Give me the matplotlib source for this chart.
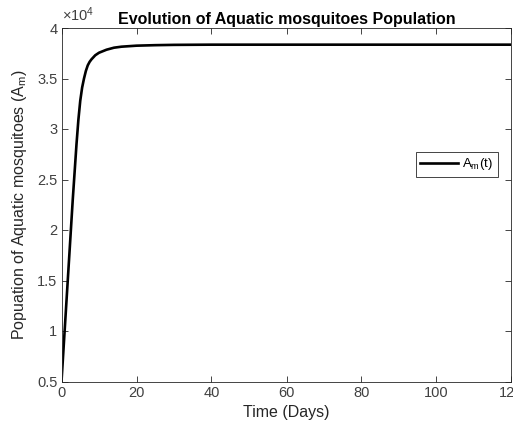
import matplotlib
matplotlib.use("Agg")
import matplotlib.pyplot as plt
from matplotlib.ticker import FuncFormatter

t_days = [0, 1, 2, 3, 4, 4.5, 5, 5.5, 6, 6.5, 7, 7.5, 8, 9, 10, 12, 14, 16, 20, 25, 30, 40, 60, 90, 120]
aquatic = [5000, 11000, 17000, 23000, 28500, 30900, 32800, 34100, 35000, 35750, 36300, 36650, 36900,
           37300, 37550, 37850, 38050, 38150, 38250, 38300, 38330, 38350, 38350, 38350, 38350]
xticks = [0, 20, 40, 60, 80, 100, 120]
yticks = [5000, 10000, 15000, 20000, 25000, 30000, 35000, 40000]

plt.rcParams['font.family'] = ['Liberation Sans', 'DejaVu Sans']
plt.rcParams['mathtext.fontset'] = 'custom'
plt.rcParams['mathtext.rm'] = 'Liberation Sans'
plt.rcParams['mathtext.it'] = 'Liberation Sans'

fig = plt.figure(figsize=(5.13, 4.33), dpi=100)
ax = fig.add_axes([61.5/513, 1-381.5/433, 450/513, 353.5/433])

ax.plot(t_days, aquatic, color='black', lw=1.9, label=r'A$_{\rm m}$(t)')
ax.set_xlim(0, 120)
ax.set_ylim(5000, 40000)
ax.set_xticks(xticks)
ax.set_yticks(yticks)
ax.yaxis.set_major_formatter(FuncFormatter(lambda v, p: f"{v/1e4:g}"))

gray = '#262626'
lab = '#404040'
for s in ax.spines.values():
    s.set_color(gray)
    s.set_linewidth(0.6)
ax.tick_params(direction='in', top=True, right=True, length=4, width=0.6,
               colors=gray, labelsize=10.5, labelcolor=lab, pad=3)

ax.text(0.0, 1.01, r'$\times$10$^{4}$', transform=ax.transAxes, fontsize=10.5,
        color=lab, ha='left', va='bottom')
ax.set_title('Evolution of Aquatic mosquitoes Population', fontsize=11.5,
             fontweight='bold', color='black', pad=3)
ax.set_xlabel('Time (Days)', fontsize=11.5, color=gray, labelpad=4)
ax.set_ylabel(r'Popuation of Aquatic mosquitoes (A$_{\rm m}$)', fontsize=11.5,
              color=gray, labelpad=6)

leg = ax.legend(loc='center', bbox_to_anchor=(0.878, 0.614), fontsize=9.5,
                fancybox=False, framealpha=1, edgecolor=gray, handlelength=2.9,
                borderpad=0.35, handletextpad=0.3, borderaxespad=0)
leg.get_frame().set_linewidth(0.6)

fig.savefig('out.png', dpi=100)
